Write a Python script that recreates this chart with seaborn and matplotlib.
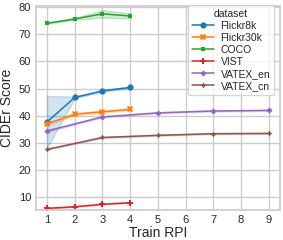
import pandas as pd
import seaborn as sns
import matplotlib.pyplot as plt

# x positions (Train RPI)
rpi_short = [1, 2, 3, 4]
rpi_vatex = [1, 3, 5, 7, 9]

# three runs per dataset (band low / centre / band high)
flickr8k_runs = [
    [28.0, 46.4, 48.7, 50.1],
    [37.6, 46.7, 49.1, 50.4],
    [47.3, 47.0, 49.5, 50.7],
]
flickr30k_runs = [
    [36.4, 40.0, 41.0, 42.0],
    [36.9, 40.5, 41.4, 42.3],
    [37.4, 41.0, 41.8, 42.6],
]
coco_runs = [
    [73.9, 75.3, 76.2, 75.8],
    [74.1, 75.7, 77.6, 76.8],
    [74.3, 76.1, 79.0, 77.8],
]
vist_runs = [
    [5.6, 6.2, 7.1, 7.7],
    [5.7, 6.3, 7.2, 7.8],
    [5.8, 6.4, 7.3, 7.9],
]
vatex_en_runs = [
    [33.9, 39.3, 40.8, 41.5, 41.7],
    [34.3, 39.5, 41.0, 41.7, 41.9],
    [34.7, 39.7, 41.2, 41.9, 42.1],
]
vatex_cn_runs = [
    [27.3, 31.7, 32.5, 33.1, 33.2],
    [27.5, 31.9, 32.7, 33.3, 33.4],
    [27.7, 32.1, 32.9, 33.5, 33.6],
]

datasets = ["Flickr8k", "Flickr30k", "COCO", "VIST", "VATEX_en", "VATEX_cn"]
all_runs = [flickr8k_runs, flickr30k_runs, coco_runs, vist_runs, vatex_en_runs, vatex_cn_runs]
all_x = [rpi_short, rpi_short, rpi_short, rpi_short, rpi_vatex, rpi_vatex]

rows = []
for name, runs, xs in zip(datasets, all_runs, all_x):
    for run in runs:
        for x, v in zip(xs, run):
            rows.append({"dataset": name, "Train RPI": x, "CIDEr Score": v})
df = pd.DataFrame(rows)

sns.set_theme(style="whitegrid")
plt.rcParams["font.family"] = ["Liberation Sans", "DejaVu Sans"]

fig, ax = plt.subplots(figsize=(2.83, 2.4), dpi=100)
sns.lineplot(data=df, x="Train RPI", y="CIDEr Score", hue="dataset", style="dataset",
             palette="tab10", markers=True, dashes=False, errorbar=("pi", 100),
             linewidth=1.1, markersize=4.5, markeredgewidth=0, ax=ax)
ax.set_ylim(5.1, 80.5)
ax.set_xticks(range(1, 10))
ax.set_yticks(range(10, 90, 10))
ax.tick_params(labelsize=8, length=0, pad=3.5)
ax.set_xlabel("Train RPI", fontsize=10, labelpad=0.5)
ax.set_ylabel("CIDEr Score", fontsize=10, labelpad=3.5)
ax.legend(title="dataset", fontsize=7.5, title_fontsize=7.5, loc="upper right",
          bbox_to_anchor=(0.975, 1.005), borderaxespad=0, labelspacing=0.2,
          handlelength=2.1, borderpad=0.35, handletextpad=0.65)
fig.subplots_adjust(left=0.127, right=0.989, top=0.975, bottom=0.125)
fig.savefig("out.png", dpi=100)
